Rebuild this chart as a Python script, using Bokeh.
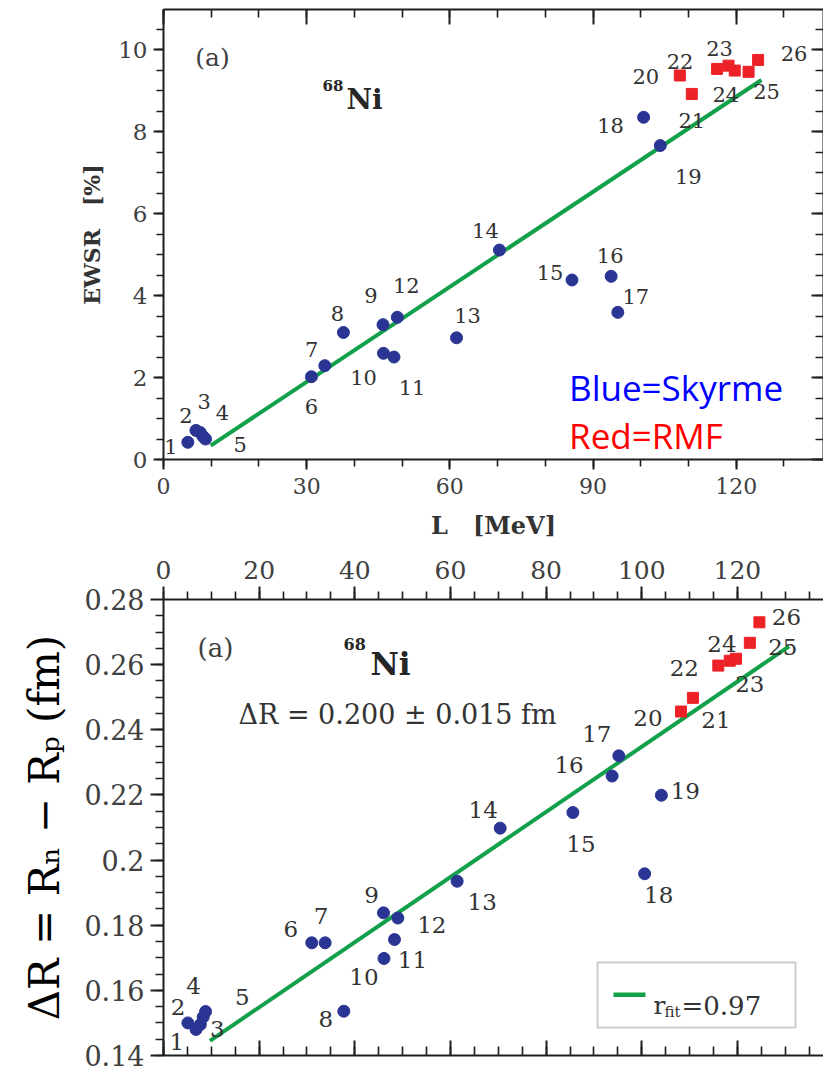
import numpy as np
from bokeh.plotting import figure
from bokeh.models import (ColumnDataSource, Range1d, LinearAxis, FixedTicker,
                          Label, BoxAnnotation, CustomJSTickFormatter)
from bokeh.layouts import column
from bokeh.embed import file_html
from bokeh.resources import INLINE
from bokeh.core.properties import value

# ---------------- data ----------------
point_ids = [str(i) for i in range(1, 27)]
model = ["Skyrme"] * 19 + ["RMF"] * 7
L_MeV = [5.1, 6.8, 7.7, 8.8, 8.3, 31.0, 33.8, 37.7, 46.0, 46.1,
         48.3, 49.0, 61.4, 70.4, 85.6, 93.8, 95.2, 100.6, 104.1, 108.2,
         110.7, 116.0, 118.4, 119.7, 122.6, 124.6]
EWSR = [0.42, 0.71, 0.66, 0.50, 0.56, 2.02, 2.29, 3.10, 3.29, 2.59,
        2.50, 3.47, 2.97, 5.11, 4.38, 4.47, 3.59, 8.35, 7.66, 9.37,
        8.92, 9.53, 9.61, 9.49, 9.46, 9.75]
dR = [0.1500, 0.1480, 0.1495, 0.1535, 0.1518, 0.1746, 0.1746, 0.1536, 0.1838, 0.1698,
      0.1756, 0.1822, 0.1935, 0.2098, 0.2146, 0.2258, 0.2320, 0.1958, 0.2199, 0.2456,
      0.2498, 0.2597, 0.2612, 0.2618, 0.2667, 0.2730]
fit_top_L = [9.9, 125.3]
fit_top_EWSR = [0.34, 9.26]
fit_bot_L = [9.7, 130.8]
fit_bot_dR = [0.1445, 0.2656]
r_fit_value = "0.97"

top_x_ticks = [0, 30, 60, 90, 120]
top_x_labels = ["0", "30", "60", "90", "120"]
top_y_ticks = [0, 2, 4, 6, 8, 10]
top_y_labels = ["0", "2", "4", "6", "8", "10"]
bot_x_ticks = [0, 20, 40, 60, 80, 100, 120]
bot_x_labels = ["0", "20", "40", "60", "80", "100", "120"]
bot_y_ticks = [0.14, 0.16, 0.18, 0.20, 0.22, 0.24, 0.26, 0.28]
bot_y_labels = ["0.14", "0.16", "0.18", "0.2", "0.22", "0.24", "0.26", "0.28"]

# ---------------- label offsets (pixels, styling only) ----------------
top_dx = [-17, -10, 4, 17, 37, 0, -13, -6, -12, -20, 18, 9, 11, -14, -22,
          -1, 18, -33, 28, -34, 0, -37, -9, -9, 18, 36]
top_dy = [4, -15, -31, -27, 8, 30, -16, -19, -29, 24, 30, -32, -22, -20, -7,
          -21, -16, 8, 31, 1, 27, -7, -17, 24, 20, -6]
bot_dx = [-11, -18, 17, -12, 39, -21, -4, -18, -12, -20, 18, 34, 25, -17, 8,
          -43, -22, 14, 24, -33, 23, -34, 20, -14, 33, 27]
bot_dy = [19, -22, 4, -26, -20, -14, -27, 8, -18, 19, 20, 7, 21, -18, 31,
          -11, -22, 21, -4, 6, 22, 2, 23, -15, 4, -5]

FONT = "DejaVu Serif"
TICK_C = "#404040"
AXIS_C = "#1e1e1e"
BLUE = "#2A3593"
RED = "#EC2227"
GREEN = "#13A04A"


def label_formatter(ticks, labels):
    return CustomJSTickFormatter(args=dict(vals=list(ticks), labs=list(labels)), code="""
        for (let i = 0; i < vals.length; i++) {
            if (Math.abs(tick - vals[i]) < 1e-9) { return labs[i]; }
        }
        return "";
    """)


def blank_formatter():
    return CustomJSTickFormatter(code="return '';")


def style_axis(ax, major_out=0, minor_out=0, major_in=0, minor_in=0,
               label_size=None, standoff=6):
    ax.axis_line_color = AXIS_C
    ax.axis_line_width = 2
    ax.major_tick_line_color = AXIS_C
    ax.major_tick_line_width = 2
    ax.minor_tick_line_color = AXIS_C
    ax.minor_tick_line_width = 1.6
    ax.major_tick_out = major_out
    ax.major_tick_in = major_in
    ax.minor_tick_out = minor_out
    ax.minor_tick_in = minor_in
    if label_size:
        ax.major_label_text_font = FONT
        ax.major_label_text_font_size = label_size
        ax.major_label_text_color = TICK_C
        ax.major_label_standoff = standoff
    else:
        ax.formatter = blank_formatter()
        ax.major_label_text_font_size = "0px"
        ax.major_label_standoff = 0


src = ColumnDataSource(dict(L=L_MeV, E=EWSR, R=dR, id=point_ids,
                            tdx=top_dx, tdy=top_dy, bdx=bot_dx, bdy=bot_dy))
n_sky = model.count("Skyrme")
src_sky = ColumnDataSource(dict(L=L_MeV[:n_sky], E=EWSR[:n_sky], R=dR[:n_sky]))
src_rmf = ColumnDataSource(dict(L=L_MeV[n_sky:], E=EWSR[n_sky:], R=dR[n_sky:]))

# ======================= TOP PANEL =======================
T_LEFT, T_TOP, T_BOTTOM, T_H = 159, 9, 459, 548
T_XMAX, T_YMAX = 138.3, 10.98
top = figure(width=823, height=T_H, x_range=Range1d(0, T_XMAX), y_range=Range1d(0, T_YMAX),
             output_backend="svg", toolbar_location=None,
             min_border_left=T_LEFT, min_border_right=0, min_border_top=T_TOP,
             min_border_bottom=T_H - T_BOTTOM)
top.grid.visible = False
top.outline_line_color = None
top.background_fill_color = "white"
top.border_fill_color = "white"

xb = top.xaxis[0]
xb.ticker = FixedTicker(ticks=top_x_ticks, minor_ticks=list(np.arange(0, 140, 10)))
style_axis(xb, major_out=10, minor_out=7, label_size="22px", standoff=8)
xb.formatter = label_formatter(top_x_ticks, top_x_labels)
xb.axis_label = "L\u00a0\u00a0\u00a0[MeV]"
xb.axis_label_text_font = FONT
xb.axis_label_text_font_style = "bold"
xb.axis_label_text_font_size = "24px"
xb.axis_label_text_color = "#333333"
xb.axis_label_standoff = 14

yl = top.yaxis[0]
yl.ticker = FixedTicker(ticks=top_y_ticks, minor_ticks=list(np.arange(0, 11.01, 0.5)))
style_axis(yl, major_out=10, minor_out=7, label_size="23px", standoff=6)
yl.formatter = label_formatter(top_y_ticks, top_y_labels)
yl.axis_label = "EWSR\u00a0\u00a0\u00a0[%]"
yl.axis_label_text_font = FONT
yl.axis_label_text_font_style = "bold"
yl.axis_label_text_font_size = "22px"
yl.axis_label_text_color = "#333333"
yl.axis_label_standoff = 10

xa = LinearAxis(ticker=FixedTicker(ticks=top_x_ticks, minor_ticks=list(np.arange(0, 140, 10))))
style_axis(xa, major_in=15, minor_in=8)
top.add_layout(xa, "above")
yr = LinearAxis(ticker=FixedTicker(ticks=top_y_ticks, minor_ticks=list(np.arange(0, 11.01, 0.5))))
style_axis(yr, major_in=12, minor_in=8)
top.add_layout(yr, "right")

top.line(fit_top_L, fit_top_EWSR, line_color=GREEN, line_width=4)
top.scatter("L", "E", source=src_sky, marker="circle", size=12,
            fill_color=BLUE, line_color=BLUE)
top.scatter("L", "E", source=src_rmf, marker="square", size=11,
            fill_color=RED, line_color=RED)
top.text(x="L", y="E", text="id", x_offset="tdx", y_offset="tdy", source=src,
         text_font=value(FONT), text_font_size=value("21px"), text_color="#333333",
         text_align="center", text_baseline="middle")

T_PXU = (823 - T_LEFT) / T_XMAX
T_PYU = (T_BOTTOM - T_TOP) / T_YMAX


def tx(px):
    return (px - T_LEFT) / T_PXU


def ty(py):
    return (T_BOTTOM - py) / T_PYU


top.add_layout(Label(x=tx(191), y=ty(57), text="(a)", text_font=FONT, text_font_size="25px",
                     text_color="#404040", text_baseline="middle"))
top.add_layout(Label(x=tx(319), y=ty(85), text="68", text_font=FONT, text_font_style="bold",
                     text_font_size="15px", text_color="#262626", text_baseline="middle"))
top.add_layout(Label(x=tx(343), y=ty(99), text="Ni", text_font=FONT, text_font_style="bold",
                     text_font_size="28px", text_color="#262626", text_baseline="alphabetic"))
top.add_layout(Label(x=tx(567), y=ty(387), text="Blue=Skyrme", text_font="Open Sans",
                     text_font_size="35px", text_color="#0000FF", text_baseline="alphabetic"))
top.add_layout(Label(x=tx(567), y=ty(435), text="Red=RMF", text_font="Open Sans",
                     text_font_size="35px", text_color="#FF0000", text_baseline="alphabetic"))

# ======================= BOTTOM PANEL =======================
B_LEFT, B_TOP, B_BOTTOM = 163, 599, 1055
B_H = 1068 - T_H
B_XMAX = 138.0
B_YMIN, B_YMAX = 0.14, 0.28
bot = figure(width=823, height=B_H, x_range=Range1d(0, B_XMAX), y_range=Range1d(B_YMIN, B_YMAX),
             output_backend="svg", toolbar_location=None,
             min_border_left=B_LEFT, min_border_right=0, min_border_top=B_TOP - T_H,
             min_border_bottom=1068 - B_BOTTOM)
bot.grid.visible = False
bot.outline_line_color = None
bot.background_fill_color = "white"
bot.border_fill_color = "white"

bxb = bot.xaxis[0]
bxb.ticker = FixedTicker(ticks=bot_x_ticks, minor_ticks=list(np.arange(0, 140, 5)))
style_axis(bxb, major_in=15, minor_in=9)

byl = bot.yaxis[0]
byl.ticker = FixedTicker(ticks=bot_y_ticks, minor_ticks=list(np.arange(0.14, 0.2801, 0.005)))
style_axis(byl, major_out=13, minor_out=8, label_size="27px", standoff=6)
byl.formatter = label_formatter(bot_y_ticks, bot_y_labels)
byl.axis_label = "\u0394R = R\u2099 \u2212 R\u209a (fm)"
byl.axis_label_text_font = FONT
byl.axis_label_text_font_style = "normal"
byl.axis_label_text_font_size = "42px"
byl.axis_label_text_color = "#000000"
byl.axis_label_standoff = 12

bxa = LinearAxis(ticker=FixedTicker(ticks=bot_x_ticks, minor_ticks=list(np.arange(0, 140, 5))))
style_axis(bxa, major_out=13, minor_out=8, label_size="25px", standoff=8)
bxa.formatter = label_formatter(bot_x_ticks, bot_x_labels)
bot.add_layout(bxa, "above")

bot.line(fit_bot_L, fit_bot_dR, line_color=GREEN, line_width=4)
bot.scatter("L", "R", source=src_sky, marker="circle", size=12,
            fill_color=BLUE, line_color=BLUE)
bot.scatter("L", "R", source=src_rmf, marker="square", size=11,
            fill_color=RED, line_color=RED)
bot.text(x="L", y="R", text="id", x_offset="bdx", y_offset="bdy", source=src,
         text_font=value(FONT), text_font_size=value("23px"), text_color="#333333",
         text_align="center", text_baseline="middle")

B_PXU = (823 - B_LEFT) / B_XMAX
B_PYU = (B_BOTTOM - B_TOP) / (B_YMAX - B_YMIN)


def bx(px):
    return (px - B_LEFT) / B_PXU


def by(py):
    return B_YMAX - (py - B_TOP) / B_PYU


bot.add_layout(Label(x=bx(197), y=by(647), text="(a)", text_font=FONT, text_font_size="26px",
                     text_color="#404040", text_baseline="middle"))
bot.add_layout(Label(x=bx(343), y=by(643), text="68", text_font=FONT, text_font_style="bold",
                     text_font_size="16px", text_color="#262626", text_baseline="middle"))
bot.add_layout(Label(x=bx(370), y=by(663), text="Ni", text_font=FONT, text_font_style="bold",
                     text_font_size="31px", text_color="#262626", text_baseline="alphabetic"))
bot.add_layout(Label(x=bx(238), y=by(714), text="\u0394R = 0.200 \u00b1 0.015 fm", text_font=FONT,
                     text_font_size="27px", text_color="#333333", text_baseline="alphabetic"))

# legend box (drawn by hand so that the subscript can be real text)
bot.add_layout(BoxAnnotation(left=bx(597), right=bx(795), top=by(962), bottom=by(1027),
                             fill_color="white", fill_alpha=1.0,
                             line_color="#555555", line_width=2))
bot.add_layout(BoxAnnotation(left=bx(613), right=bx(645), top=by(992), bottom=by(996.5),
                             fill_color=GREEN, fill_alpha=1.0, line_color=None))
bot.add_layout(Label(x=bx(653), y=by(1005), text="r", text_font=FONT, text_font_size="25px",
                     text_color="#333333", text_baseline="alphabetic"))
bot.add_layout(Label(x=bx(664), y=by(1011), text="fit", text_font=FONT, text_font_size="15px",
                     text_color="#333333", text_baseline="alphabetic"))
bot.add_layout(Label(x=bx(681), y=by(1005), text="=" + r_fit_value, text_font=FONT,
                     text_font_size="26px", text_color="#333333", text_baseline="alphabetic"))

layout = column(top, bot, spacing=0)
with open("out.html", "w") as f:
    f.write(file_html(layout, INLINE))
